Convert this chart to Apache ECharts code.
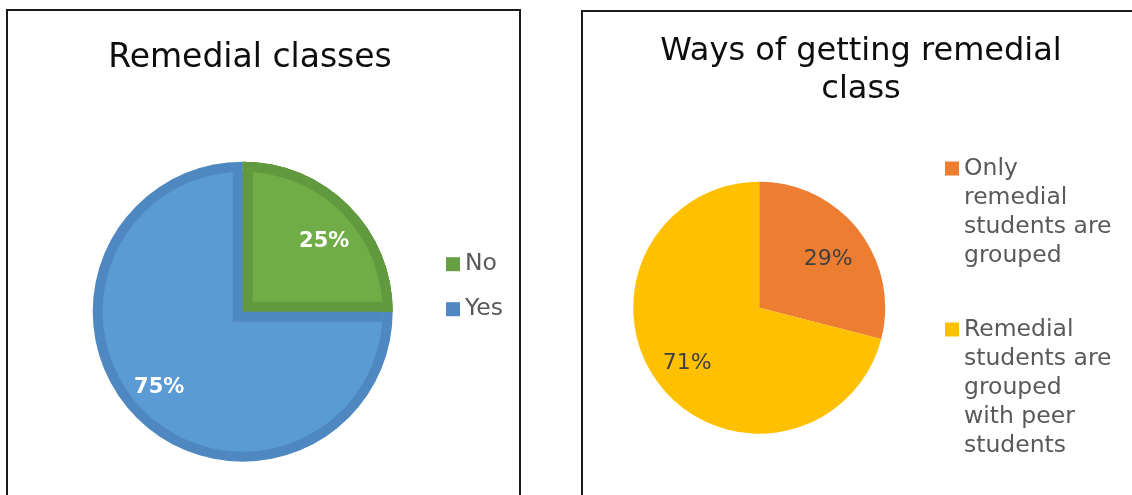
<!DOCTYPE html>
<html>
<head>
<meta charset="utf-8">
<script src="https://cdn.jsdelivr.net/npm/echarts@6/dist/echarts.min.js"></script>
<style>
  html, body { margin: 0; padding: 0; background: #ffffff; width: 1132px; height: 495px; overflow: hidden; }
  .panel { position: absolute; border: 2px solid #1a1a1a; background: #ffffff; }
  #panelL { left: 6px; top: 9px; width: 511px; height: 540px; }
  #panelR { left: 581px; top: 10px; width: 600px; height: 540px; }
  .chart { width: 100%; height: 100%; }
</style>
</head>
<body>
<div class="panel" id="panelL"><div class="chart" id="chartL"></div></div>
<div class="panel" id="panelR"><div class="chart" id="chartR"></div></div>
<script>
// ---- data ----
const remedialTitle = 'Remedial classes';
const remedialCategories = ['No', 'Yes'];
const remedialValues = [25, 75];

const waysTitle = 'Ways of getting remedial\nclass';
const waysCategories = [
  'Only remedial students are grouped',
  'Remedial students are grouped with peer students'
];
const waysValues = [29, 71];
const waysLegendLines = [
  ['Only', 'remedial', 'students are', 'grouped'],
  ['Remedial', 'students are', 'grouped', 'with peer', 'students']
];

// ---- styling ----
const FONT = 'DejaVu Sans';
const lightGreen = '#70AD47', darkGreen = '#619A3E';
const lightBlue = '#5B9BD5', darkBlue = '#4F88C0';
const legendGreen = '#67A043', legendBlue = '#5289C5';
const orange = '#ED7D31', gold = '#FFC000';
const NONE = 'rgba(0,0,0,0)';

function pieLayer(categories, values, colors, center, radius, label, labelNudge) {
  return {
    type: 'pie',
    silent: true,
    animation: false,
    startAngle: 90,
    clockwise: true,
    center: center,
    radius: radius,
    avoidLabelOverlap: false,
    emphasis: { disabled: true },
    label: label || { show: false },
    labelLine: { show: false },
    data: categories.map((name, i) => {
      const item = {
        name: name,
        value: values[i],
        itemStyle: { color: colors[i], borderWidth: 0 }
      };
      if (labelNudge) item.label = { offset: labelNudge[i] };
      return item;
    })
  };
}

// Legend marker: a square sitting level with the first text line of a
// multi-line entry (tiny corner specks fix the path's box to the item height).
function topSquareIcon(height, lineHeight) {
  const y0 = lineHeight / 2 - 7, y1 = y0 + 14;
  return 'path://M0,0L0.01,0L0,0.01Z' +
    'M0,' + y0 + 'L14,' + y0 + 'L14,' + y1 + 'L0,' + y1 + 'Z' +
    'M14,' + height + 'L13.99,' + height + 'L14,' + (height - 0.01) + 'Z';
}

// ---- left chart: bevelled pie ----
const cxL = 234.7, cyL = 300.7, RL = 150, BAND = 10;
const chartL = echarts.init(document.getElementById('chartL'), null, { renderer: 'canvas' });
const leftLabel = {
  show: true, position: 'inside', formatter: '{c}%',
  color: '#ffffff', fontFamily: FONT, fontWeight: 'bold', fontSize: 21
};
chartL.setOption({
  backgroundColor: '#ffffff',
  animation: false,
  title: {
    text: remedialTitle,
    left: 242, top: 31, padding: 0, textAlign: 'center',
    textStyle: { fontFamily: FONT, fontSize: 33, fontWeight: 'normal', color: '#0d0d0d' }
  },
  legend: remedialCategories.map((name, i) => ({
    data: [{ name: name, icon: 'rect', itemStyle: { color: [legendGreen, legendBlue][i] } }],
    orient: 'vertical', left: 438, top: [241.2, 286.2][i], padding: 0,
    itemWidth: 14, itemHeight: 14, selectedMode: false,
    textStyle: { fontFamily: FONT, fontSize: 23.5, color: '#595959' }
  })),
  series: [
    // full pie in the rim colours
    pieLayer(remedialCategories, remedialValues, [darkGreen, darkBlue], [cxL, cyL], RL),
    // blue face, inset from the rim
    pieLayer(remedialCategories, remedialValues, [NONE, lightBlue], [cxL, cyL], RL - BAND),
    // rim along the straight blue edges
    pieLayer(remedialCategories, remedialValues, [darkBlue, NONE], [cxL - BAND, cyL + BAND], RL),
    // green slice rim
    pieLayer(remedialCategories, remedialValues, [darkGreen, NONE], [cxL, cyL], RL),
    // green face, shifted inward from its straight edges
    pieLayer(remedialCategories, remedialValues, [lightGreen, NONE], [cxL + BAND, cyL - BAND], RL - 15),
    // green outer rim
    pieLayer(remedialCategories, remedialValues, [darkGreen, NONE], [cxL, cyL], [RL - BAND, RL]),
    // percentage labels
    pieLayer(remedialCategories, remedialValues, [NONE, NONE], [cxL, cyL], [RL * 0.46, RL], leftLabel,
      [[2, 9], [-4, -4]])
  ]
});

// ---- right chart ----
const cxR = 176.2, cyR = 295.7, RR = 126, LH = 29;
const chartR = echarts.init(document.getElementById('chartR'), null, { renderer: 'canvas' });
chartR.setOption({
  backgroundColor: '#ffffff',
  animation: false,
  title: {
    text: waysTitle,
    left: 278, top: 21, padding: 0, textAlign: 'center',
    textStyle: { fontFamily: FONT, fontSize: 32, fontWeight: 'normal', color: '#0d0d0d', lineHeight: 37.5 }
  },
  legend: waysCategories.map((name, i) => {
    const h = waysLegendLines[i].length * LH;
    return {
      data: [{ name: name, icon: topSquareIcon(h, LH), itemStyle: { color: [orange, gold][i] } }],
      orient: 'vertical', left: 362, top: [142, 303][i], padding: 0,
      itemWidth: 14, itemHeight: h, selectedMode: false,
      formatter: () => waysLegendLines[i].join('\n'),
      textStyle: { fontFamily: FONT, fontSize: 23.5, color: '#595959', lineHeight: LH }
    };
  }),
  series: [
    pieLayer(waysCategories, waysValues, [orange, gold], [cxR, cyR], RR),
    pieLayer(waysCategories, waysValues, [NONE, NONE], [cxR, cyR], [RR * 0.4, RR], {
      show: true, position: 'inside', formatter: '{c}%',
      color: '#404040', fontFamily: FONT, fontSize: 22
    }, [[-3, 7], [0, 0]])
  ]
});
</script>
</body>
</html>
